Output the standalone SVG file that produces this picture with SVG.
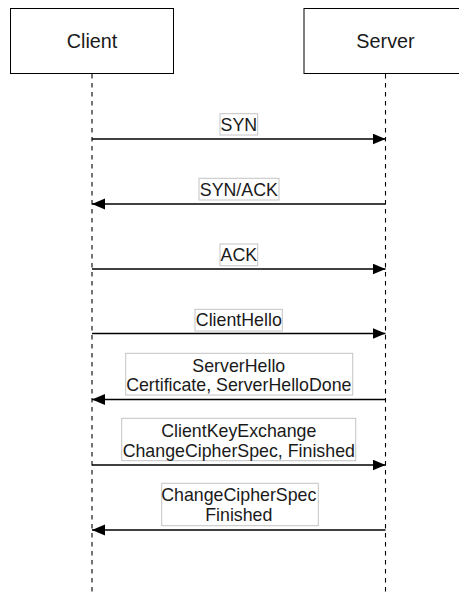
<svg xmlns="http://www.w3.org/2000/svg" width="459" height="595" viewBox="0 0 459 595">
  <style>
    .actor { fill: #ffffff; stroke: #000000; stroke-width: 1; }
    .actor-text { font-family: "Liberation Sans", Arial, sans-serif; font-size: 19.8px; fill: #1a1a1a; text-anchor: middle; }
    .lifeline { stroke: #000000; stroke-width: 1.1; stroke-dasharray: 4.5 4.5; fill: none; }
    .msg { stroke: #000000; stroke-width: 1.6; fill: none; marker-end: url(#block); }
    .label-box { fill: #ffffff; stroke: #c4c4c4; stroke-width: 1; }
    .label { font-family: "Liberation Sans", Arial, sans-serif; font-size: 17.8px; fill: #1a1a1a; text-anchor: middle; }
  </style>
  <defs>
    <marker id="block" markerUnits="userSpaceOnUse" markerWidth="14" markerHeight="12" refX="13" refY="5.5" orient="auto">
      <path d="M0,0 L13,5.5 L0,11 Z" fill="#000000"/>
    </marker>
  </defs>

  <rect width="459" height="595" fill="#ffffff"/>

  <!-- participants -->
  <g id="client">
    <rect class="actor" x="10.5" y="8.5" width="163" height="65"/>
    <line class="lifeline" x1="92" y1="74" x2="92" y2="595"/>
    <text class="actor-text" x="92" y="48">Client</text>
  </g>
  <g id="server">
    <rect class="actor" x="304" y="8.5" width="163" height="65"/>
    <line class="lifeline" x1="385.5" y1="74" x2="385.5" y2="595"/>
    <text class="actor-text" x="385.5" y="48">Server</text>
  </g>

  <!-- messages -->
  <g id="connectors">
    <line class="msg" x1="92" y1="139" x2="385.5" y2="139"/>
    <line class="msg" x1="385.5" y1="204" x2="92" y2="204"/>
    <line class="msg" x1="92" y1="269" x2="385.5" y2="269"/>
    <line class="msg" x1="92" y1="333.5" x2="385.5" y2="333.5"/>
    <line class="msg" x1="385.5" y1="399.5" x2="92" y2="399.5"/>
    <line class="msg" x1="92" y1="465" x2="385.5" y2="465"/>
    <line class="msg" x1="385.5" y1="530" x2="92" y2="530"/>
  </g>

  <!-- message labels -->
  <g id="label-syn">
    <rect class="label-box" x="220" y="113.7" width="37.7" height="21.3"/>
    <text class="label" x="238.8" y="131">SYN</text>
  </g>
  <g id="label-synack">
    <rect class="label-box" x="199" y="178.3" width="80" height="21.7"/>
    <text class="label" x="238.8" y="195.5">SYN/ACK</text>
  </g>
  <g id="label-ack">
    <rect class="label-box" x="220" y="244" width="37.7" height="21.7"/>
    <text class="label" x="238.8" y="260.8">ACK</text>
  </g>
  <g id="label-clienthello">
    <rect class="label-box" x="195" y="309.3" width="87.3" height="21.7"/>
    <text class="label" x="238.8" y="326">ClientHello</text>
  </g>
  <g id="label-serverhello">
    <rect class="label-box" x="125.7" y="353.3" width="227" height="41.7"/>
    <text class="label" x="238.8" y="371.5">ServerHello</text>
    <text class="label" x="238.8" y="391.3">Certificate, ServerHelloDone</text>
  </g>
  <g id="label-clientkeyexchange">
    <rect class="label-box" x="121.7" y="418.3" width="234" height="42.4"/>
    <text class="label" x="238.8" y="436.8">ClientKeyExchange</text>
    <text class="label" x="238.8" y="456.8">ChangeCipherSpec, Finished</text>
  </g>
  <g id="label-changecipherspec">
    <rect class="label-box" x="161.7" y="483.3" width="156.6" height="42.4"/>
    <text class="label" x="238.8" y="501">ChangeCipherSpec</text>
    <text class="label" x="238.8" y="521">Finished</text>
  </g>
</svg>
